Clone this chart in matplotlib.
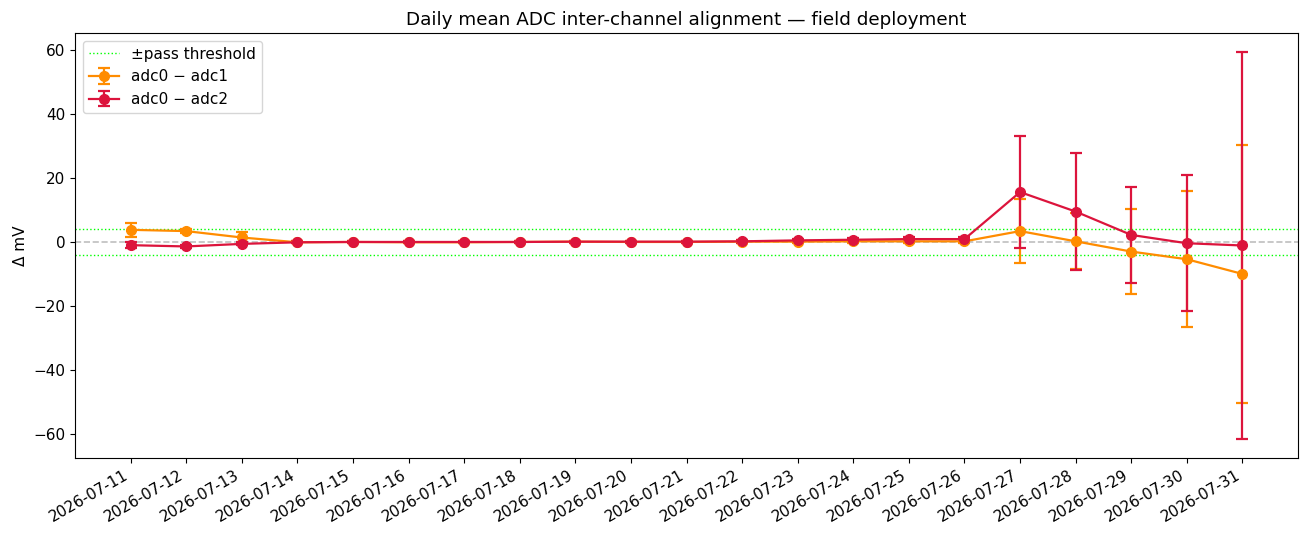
import numpy as np
import matplotlib
matplotlib.use("Agg")
import matplotlib.pyplot as plt

plt.rcParams["font.size"] = 11

# daily dates
days = ["2026-07-%02d" % d for d in range(11, 32)]

# adc0 - adc1 (mean, std)
d01     = [3.9, 3.5, 1.5, 0.0, 0.1, 0.0, 0.0, 0.1, 0.2, 0.1, 0.1, 0.2, 0.2, 0.3, 0.3, 0.3,
           3.5, 0.3, -2.9, -5.3, -9.9]
d01_err = [2.1, 0.6, 1.6, 0.3, 0.3, 0.3, 0.3, 0.3, 0.3, 0.3, 0.3, 0.4, 0.4, 0.4, 0.4, 0.5,
           10.0, 8.8, 13.2, 21.2, 40.3]

# adc0 - adc2 (mean, std)
d02     = [-0.9, -1.3, -0.5, 0.0, 0.1, 0.1, 0.1, 0.1, 0.2, 0.2, 0.2, 0.3, 0.6, 0.8, 1.0, 1.0,
           15.7, 9.6, 2.3, -0.3, -1.0]
d02_err = [1.0, 0.5, 0.5, 0.3, 0.3, 0.3, 0.3, 0.3, 0.3, 0.3, 0.3, 0.4, 0.4, 0.4, 0.5, 0.5,
           17.6, 18.4, 14.9, 21.3, 60.4]

thr = 4.0   # pass threshold [mV]

fig, ax = plt.subplots(figsize=(13.08, 5.38), dpi=100)
x = np.arange(len(days))

ax.axhline(0, color="0.75", ls="--", lw=1.2, zorder=0)
ax.axhline(thr, color="lime", ls=":", lw=1.0, label="\u00b1pass threshold")
ax.axhline(-thr, color="lime", ls=":", lw=1.0)

ax.errorbar(x, d01, yerr=d01_err, color="darkorange", marker="o", ms=7, lw=1.6,
            capsize=4, elinewidth=1.6, capthick=1.6, label="adc0 \u2212 adc1")
ax.errorbar(x, d02, yerr=d02_err, color="crimson", marker="o", ms=7, lw=1.6,
            capsize=4, elinewidth=1.6, capthick=1.6, label="adc0 \u2212 adc2")

ax.set_xticks(x)
ax.set_xticklabels(days, rotation=30, ha="right")
ax.set_ylabel("\u0394 mV")
ax.set_title("Daily mean ADC inter-channel alignment \u2014 field deployment")
ax.legend(loc="upper left")

fig.subplots_adjust(left=0.0573, right=0.9924, top=0.9387, bottom=0.1487)
fig.savefig("out.png")
